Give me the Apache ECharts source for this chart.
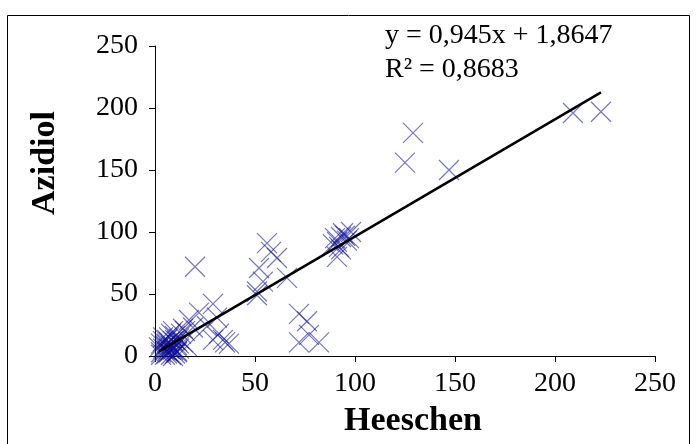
<!DOCTYPE html>
<html>
<head>
<meta charset="utf-8">
<script src="https://cdn.jsdelivr.net/npm/echarts@6/dist/echarts.min.js"></script>
<style>html,body{margin:0;padding:0;background:#fff}#c{width:696px;height:444px}</style>
</head>
<body>
<div id="c"></div>
<script>
const heeschen = [3,4,5,5,6,6,7,7,8,8,9,9,10,10,11,11,12,12,13,14,15,16,3,4,6,8,11,2,5,9,14,17,19,22,26,29,31,32,29,34,35,37,20,
  4,5,6,7,8,9,10,11,12,3,7,9,
  51,52,54,56,58,61,66,51,72,76,72,77,82,
  89,90,91,92,93,94,95,96,97,98,91,93,
  125,129,147,209,223];
const azidiol = [10,12,8,5,13,10,3,15,8,18,5,12,2,16,9,4,6,14,18,11,20,8,3,15,2,5,12,7,1,20,22,29,23,35,24,42,31,18,13,13,11,10,72,
  6,9,4,11,1,7,13,3,10,1,6,0,
  49,71,60,91,84,79,63,52,34,28,11,17,11,
  90,95,92,88,96,99,97,93,95,100,80,86,
  156,180,150,196,197];
const slope = 0.945, intercept = 1.8647;
const eqText = 'y = 0,945x + 1,8647';
const r2Text = 'R² = 0,8683';
const xName = 'Heeschen';
const yName = 'Azidiol';

const pts = heeschen.map((x,i)=>[x,azidiol[i]]);
const xmin = Math.min(...heeschen), xmax = Math.max(...heeschen);
const trend = [[xmin, slope*xmin+intercept],[xmax, slope*xmax+intercept]];

const font = 'Liberation Serif';
const chart = echarts.init(document.getElementById('c'));
chart.setOption({
  animation:false,
  grid:{left:155, top:46, width:500, height:310, containLabel:false},
  xAxis:{type:'value', min:0, max:250, interval:50,
    axisLine:{show:true, lineStyle:{color:'#000', width:1}},
    axisTick:{show:true, length:6, lineStyle:{color:'#000'}},
    splitLine:{show:false},
    axisLabel:{color:'#000', fontFamily:font, fontSize:28, margin:14}},
  yAxis:{type:'value', min:0, max:250, interval:50,
    axisLine:{show:true, lineStyle:{color:'#000', width:1}},
    axisTick:{show:true, length:6, lineStyle:{color:'#000'}},
    splitLine:{show:false},
    axisLabel:{color:'#000', fontFamily:font, fontSize:28, margin:17}},
  graphic:[
    {type:'rect', shape:{x:7.5,y:15.5,width:682,height:440}, style:{fill:'none', stroke:'#000', lineWidth:1}, silent:true},
    {type:'text', left:385, top:22, style:{text:eqText, font:'28px "Liberation Serif"', fill:'#000'}},
    {type:'text', left:385, top:56, style:{text:r2Text, font:'28px "Liberation Serif"', fill:'#000'}},
    {type:'text', x:413, y:421, style:{text:xName, font:'bold 34px "Liberation Serif"', fill:'#000', align:'center', verticalAlign:'middle'}},
    {type:'text', x:45, y:163, rotation:Math.PI/2, style:{text:yName, font:'bold 34px "Liberation Serif"', fill:'#000', align:'center', verticalAlign:'middle'}}
  ],
  series:[
    {type:'scatter', data:pts, symbol:'path://M0,0L10,10M10,0L0,10', symbolSize:20,
      itemStyle:{color:'none', borderColor:'rgba(10,10,150,0.7)', borderWidth:1.2}},
    {type:'line', data:trend, symbol:'none', lineStyle:{color:'#000', width:2.5}, z:3}
  ]
});
</script>
</body>
</html>
